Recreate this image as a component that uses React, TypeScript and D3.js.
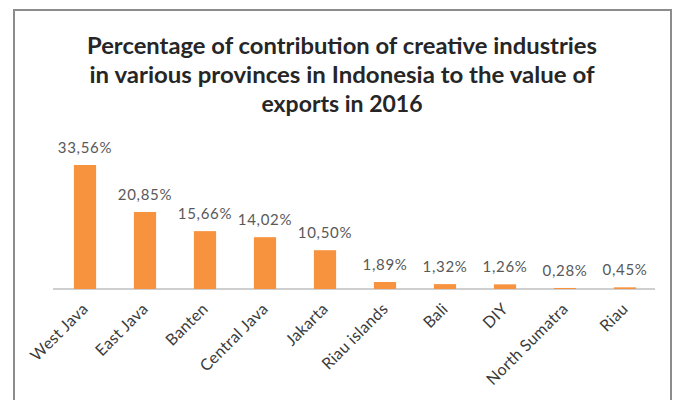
import React from "react";
import * as d3 from "d3";

const titleLines = [
  "Percentage of contribution of creative industries",
  "in various provinces in Indonesia to the value of",
  "exports in 2016",
];
const provinces = [
  "West Java",
  "East Java",
  "Banten",
  "Central Java",
  "Jakarta",
  "Riau islands",
  "Bali",
  "DIY",
  "North Sumatra",
  "Riau",
];
const shares = [33.56, 20.85, 15.66, 14.02, 10.5, 1.89, 1.32, 1.26, 0.28, 0.45];

const W = 678;
const H = 400;
const FONT = "Lato, 'Open Sans', 'DejaVu Sans', sans-serif";
const titleWidths = [510, 505, 161];

export default function App() {
  const x = d3
    .scaleBand<string>()
    .domain(provinces)
    .range([55, 655])
    .paddingInner(0.63)
    .paddingOuter(0.315);
  const y = d3.scaleLinear().domain([0, 40]).range([289, 141.2]);
  const fmt = (v: number) => v.toFixed(2).replace(".", ",") + "%";
  const baseY = y(0);

  return (
    <svg
      width={W}
      height={H}
      style={{ position: "absolute", left: 0, top: 0, background: "#fff" }}
    >
      <rect x={0} y={0} width={W} height={H} fill="#fff" />
      <rect
        x={14}
        y={10}
        width={657}
        height={H}
        fill="#fff"
        stroke="#8c8c8c"
        strokeWidth={2}
      />
      {titleLines.map((t, i) => (
        <text
          key={i}
          x={342}
          y={54 + i * 29}
          textAnchor="middle"
          fontFamily={FONT}
          fontWeight={700}
          fontSize={22}
          textLength={titleWidths[i]}
          lengthAdjust="spacingAndGlyphs"
          fill="#262626"
        >
          {t}
        </text>
      ))}
      <line
        x1={53}
        x2={655}
        y1={baseY}
        y2={baseY}
        stroke="#bfbfbf"
        strokeWidth={1.5}
      />
      {provinces.map((p, i) => {
        const v = shares[i];
        const bx = x(p)!;
        const bw = x.bandwidth();
        const cx = bx + bw / 2;
        return (
          <g key={p}>
            <rect
              x={bx}
              y={y(v)}
              width={bw}
              height={baseY - y(v)}
              fill="#F7923E"
            />
            <text
              x={cx}
              y={y(v) - 12}
              textAnchor="middle"
              fontFamily={FONT}
              fontSize={15}
              letterSpacing={0.7}
              fill="#595959"
            >
              {fmt(v)}
            </text>
            <text
              transform={`translate(${cx + 4},${baseY + 21}) rotate(-45)`}
              textAnchor="end"
              fontFamily={FONT}
              fontSize={16}
              letterSpacing={0.3}
              fill="#3a3a3a"
            >
              {p}
            </text>
          </g>
        );
      })}
    </svg>
  );
}
